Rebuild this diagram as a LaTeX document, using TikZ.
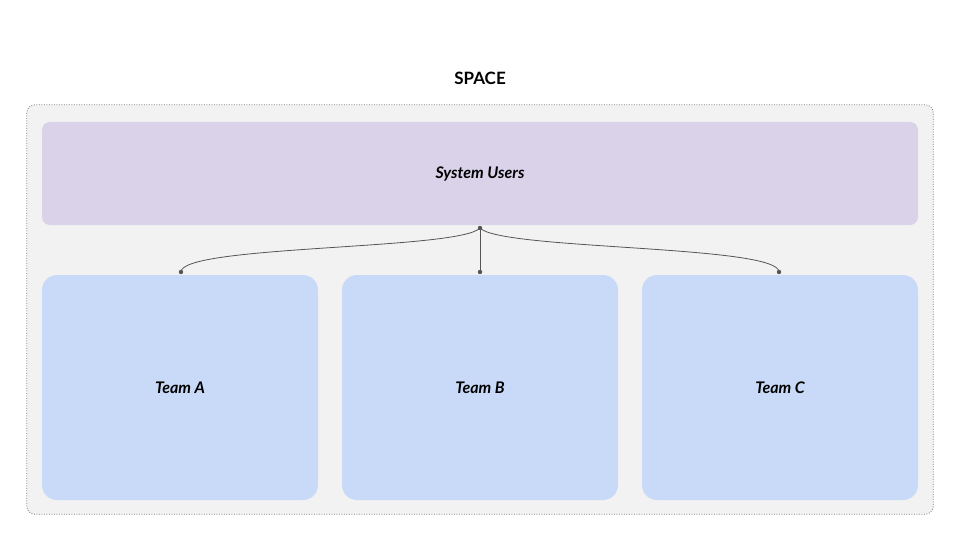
\documentclass[tikz,border=0pt]{standalone}
\usepackage{fontspec}
\setmainfont{Lato}
\definecolor{spacebg}{HTML}{F2F2F2}
\definecolor{sysc}{HTML}{D9D2E9}
\definecolor{teamc}{HTML}{C9DAF8}
\definecolor{linec}{HTML}{555555}
\begin{document}
\begin{tikzpicture}[x=1pt,y=-1pt,
  box/.style={inner sep=0pt,font=\fontsize{16}{19}\selectfont\bfseries\itshape},
  conn/.style={draw=linec,line width=0.8pt},
  dotc/.style={fill=linec,draw=none}]
\useasboundingbox (0,0) rectangle (960,540);
\node[box,font=\fontsize{17}{20}\selectfont\bfseries] (title) at (480,78) {SPACE};
\node[box,fill=spacebg,rounded corners=8pt,minimum width=906pt,minimum height=409pt] (space) at (480,309.5) {};
\draw[draw=gray,line width=0.8pt,dash pattern=on 1pt off 1.5pt,rounded corners=8pt] (space.north west) rectangle (space.south east);
\node[box,fill=sysc,rounded corners=8pt,minimum width=876pt,minimum height=103pt] (sys) at (480,173.5) {System Users};
\node[box,fill=teamc,rounded corners=15pt,minimum width=276pt,minimum height=225pt] (a) at (180,387.5) {Team A};
\node[box,fill=teamc,rounded corners=15pt,minimum width=276pt,minimum height=225pt] (b) at (480,387.5) {Team B};
\node[box,fill=teamc,rounded corners=15pt,minimum width=276pt,minimum height=225pt] (c) at (780,387.5) {Team C};
\coordinate (s) at (480,228);
\coordinate (ta) at (181,272);
\coordinate (tb) at (480,272);
\coordinate (tc) at (779,272);
\draw[conn] (s) .. controls (460,250) and (181,245) .. (ta);
\draw[conn] (s) -- (tb);
\draw[conn] (s) .. controls (500,250) and (779,245) .. (tc);
\foreach \p in {s,ta,tb,tc} \fill[dotc] (\p) circle (2.2pt);
\end{tikzpicture}
\end{document}
